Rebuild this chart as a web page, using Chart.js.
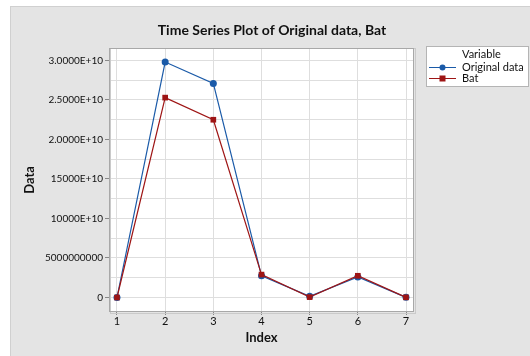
<!DOCTYPE html>
<html>
<head>
<meta charset="utf-8">
<script src="https://cdn.jsdelivr.net/npm/chart.js@4.4.0/dist/chart.umd.min.js"></script>
<style>
  body { margin: 0; background: #fff; }
  canvas { display: block; }
</style>
</head>
<body>
<canvas id="grafico" width="530" height="356"></canvas>
<script>
const indices = [1, 2, 3, 4, 5, 6, 7];
const originalData = [0, 2.98e10, 2.71e10, 2.75e9, 1.5e8, 2.6e9, 2e7];
const batData = [0, 2.53e10, 2.25e10, 2.9e9, 5e7, 2.75e9, 2e7];
const yTicks = [0, 5e9, 1e10, 1.5e10, 2e10, 2.5e10, 3e10];
const yTickLabels = ['0', '5000000000', '10000E+10', '15000E+10', '2.0000E+10', '2.5000E+10', '3.0000E+10'];

const FONTE = "Lato, 'Noto Sans', sans-serif";
const AZUL = '#1a5aa8';
const VERMELHO = '#9e1515';

// fundo cinza, moldura da área do gráfico, título e legenda
const molduraPlugin = {
  id: 'moldura',
  beforeDraw(chart) {
    const c = chart.ctx;
    c.save();
    c.fillStyle = '#fff';
    c.fillRect(0, 0, chart.width, chart.height);
    c.fillStyle = '#e4e4e4';
    c.fillRect(10, 6, chart.width - 10, chart.height - 6);
    c.strokeStyle = '#d0d0d0';
    c.strokeRect(10.5, 6.5, chart.width, chart.height);
    const a = chart.chartArea;
    c.fillStyle = '#fff';
    c.fillRect(a.left, a.top, a.right - a.left, a.bottom - a.top);
    c.restore();
  },
  afterDraw(chart) {
    const c = chart.ctx;
    const a = chart.chartArea;
    c.save();
    c.strokeStyle = '#cacaca';
    c.lineWidth = 1;
    c.strokeRect(a.left + 1.5, a.top + 0.5, a.right - a.left, a.bottom - a.top + 1);
    c.strokeStyle = '#a8a8a8';
    c.strokeRect(a.left + 0.5, a.top + 0.5, a.right - a.left - 1, a.bottom - a.top - 1);

    c.fillStyle = '#111';
    c.font = "bold 14px " + FONTE;
    c.textAlign = 'center';
    c.textBaseline = 'middle';
    c.fillText('Time Series Plot of Original data, Bat', 272, 30);

    // legenda
    c.fillStyle = '#fff';
    c.fillRect(426, 46, 103, 41);
    c.strokeStyle = '#b4b4b4';
    c.strokeRect(426.5, 46.5, 102, 40);
    c.font = "11px " + FONTE;
    c.fillStyle = '#111';
    c.textAlign = 'left';
    c.fillText('Variable', 462, 54);
    const itens = [
      { label: 'Original data', cor: AZUL, estilo: 'circle', y: 67 },
      { label: 'Bat', cor: VERMELHO, estilo: 'rect', y: 78 }
    ];
    itens.forEach(it => {
      c.strokeStyle = it.cor;
      c.lineWidth = 1;
      c.beginPath();
      c.moveTo(429, it.y + 0.5);
      c.lineTo(456, it.y + 0.5);
      c.stroke();
      c.fillStyle = it.cor;
      if (it.estilo === 'circle') {
        c.beginPath();
        c.arc(442.5, it.y + 0.5, 3, 0, Math.PI * 2);
        c.fill();
      } else {
        c.fillRect(439.5, it.y - 2.5, 6, 6);
      }
      c.fillStyle = '#111';
      c.fillText(it.label, 462, it.y);
    });
    c.restore();
  }
};

new Chart(document.getElementById('grafico'), {
  type: 'line',
  data: {
    datasets: [
      {
        label: 'Original data',
        data: indices.map((x, i) => ({ x, y: originalData[i] })),
        borderColor: AZUL,
        backgroundColor: AZUL,
        borderWidth: 1.2,
        pointStyle: 'circle',
        pointRadius: 3.5,
        pointBorderWidth: 0,
        order: 1
      },
      {
        label: 'Bat',
        data: indices.map((x, i) => ({ x, y: batData[i] })),
        borderColor: VERMELHO,
        backgroundColor: VERMELHO,
        borderWidth: 1.2,
        pointStyle: 'rect',
        pointRadius: 4,
        pointBorderWidth: 0,
        order: 0
      }
    ]
  },
  options: {
    responsive: false,
    devicePixelRatio: 1,
    animation: false,
    layout: { padding: { left: 10, top: 48, right: 116, bottom: 6 } },
    plugins: { legend: { display: false }, title: { display: false }, tooltip: { enabled: false } },
    scales: {
      x: {
        type: 'linear',
        min: 0.834,
        max: 7.166,
        afterBuildTicks: ax => { ax.ticks = indices.map(v => ({ value: v })); },
        afterFit: ax => { ax.height = 38; },
        grid: { color: '#dedede', tickLength: 3, tickColor: '#888' },
        border: { display: false },
        ticks: { color: '#111', font: { family: FONTE, size: 11 }, padding: 0, maxRotation: 0 },
        title: { display: true, text: 'Index', color: '#111', font: { family: FONTE, size: 13, weight: 'bold' }, padding: { top: 0 } }
      },
      y: {
        min: -1.835e9,
        max: 3.158e10,
        afterBuildTicks: ax => {
          const t = [];
          for (let v = 0; v <= 3e10 + 1; v += 2.5e9) t.push({ value: v });
          ax.ticks = t;
        },
        afterFit: ax => { ax.width = 99; },
        grid: {
          color: '#dedede',
          tickLength: 4,
          tickColor: ctx => (ctx.index % 2 === 0 ? '#888' : 'rgba(0,0,0,0)')
        },
        border: { display: false },
        ticks: {
          color: '#111',
          font: { family: FONTE, size: 10 },
          padding: 2,
          autoSkip: false,
          callback: v => {
            const i = yTicks.findIndex(t => Math.abs(t - v) < 1);
            return i >= 0 ? yTickLabels[i] : '';
          }
        },
        title: { display: true, text: 'Data', color: '#111', font: { family: FONTE, size: 13, weight: 'bold' }, padding: { top: 12, bottom: 0 } }
      }
    }
  },
  plugins: [molduraPlugin]
});
</script>
</body>
</html>
